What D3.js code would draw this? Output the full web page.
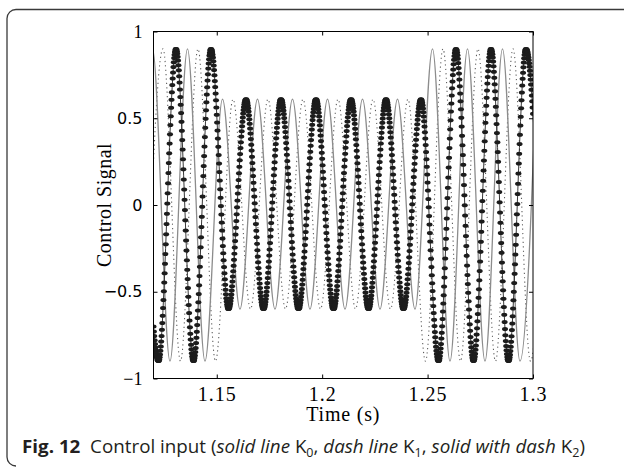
<!DOCTYPE html>
<html>
<head>
<meta charset="utf-8">
<script src="https://cdn.jsdelivr.net/npm/d3@7/dist/d3.min.js"></script>
<style>
  body { margin: 0; background: #fff; }
</style>
</head>
<body>
<div id="chart"></div>
<script>
// peaks and troughs: time (s) and control signal value
// K0 - solid line
var k0Time = [1.11122, 1.11952, 1.12782, 1.13612, 1.14442, 1.15272, 1.16102, 1.16932,
              1.17762, 1.18592, 1.19422, 1.20253, 1.21083, 1.21913, 1.22743, 1.23573,
              1.24403, 1.25233, 1.26063, 1.26893, 1.27723, 1.28553, 1.29383, 1.30213];
var k0Value = [-0.9, 0.9, -0.9, 0.9, -0.9, 0.61, -0.6, 0.61,
               -0.6, 0.61, -0.6, 0.61, -0.6, 0.61, -0.6, 0.61,
               -0.6, 0.9, -0.9, 0.9, -0.9, 0.9, -0.9, 0.9];
// K1 - dash line
var k1Time = [1.11620, 1.12450, 1.13280, 1.14110, 1.14940, 1.15770, 1.16600, 1.17430,
              1.18260, 1.19091, 1.19921, 1.20751, 1.21581, 1.22411, 1.23241, 1.24071,
              1.24901, 1.25731, 1.26561, 1.27391, 1.28221, 1.29051, 1.29881, 1.30711];
var k1Value = [-0.9, 0.9, -0.9, 0.9, -0.9, 0.61, -0.6, 0.61,
               -0.6, 0.61, -0.6, 0.61, -0.6, 0.61, -0.6, 0.61,
               -0.9, 0.9, -0.9, 0.9, -0.9, 0.9, -0.9, 0.9];
// K2 - solid with dash (markers)
var k2Time = [1.11407, 1.12237, 1.13067, 1.13897, 1.14727, 1.15557, 1.16387, 1.17217,
              1.18047, 1.18877, 1.19708, 1.20538, 1.21368, 1.22198, 1.23028, 1.23858,
              1.24688, 1.25518, 1.26348, 1.27178, 1.28008, 1.28838, 1.29668, 1.30498];
var k2Value = [0.9, -0.9, 0.9, -0.9, 0.9, -0.6, 0.61, -0.6,
               0.61, -0.6, 0.61, -0.6, 0.61, -0.6, 0.61, -0.6,
               0.61, -0.9, 0.9, -0.9, 0.9, -0.9, 0.9, -0.9];

var xTicks = [1.15, 1.2, 1.25, 1.3];
var xTickLabels = ["1.15", "1.2", "1.25", "1.3"];
var yTicks = [-1, -0.5, 0, 0.5, 1];
var yTickLabels = ["\u22121", "\u22120.5", "0", "0.5", "1"];

var w = 624, h = 468;
var markerStep = 1 / 5500;   // sample spacing of the K2 markers

var svg = d3.select("#chart").append("svg")
    .attr("width", w)
    .attr("height", h);

var x = d3.scaleLinear().domain([1.12, 1.3]).range([153.5, 533]);
var y = d3.scaleLinear().domain([-1, 1]).range([378.5, 31.5]);

// frame of the figure (top and left side only)
svg.append("path")
    .attr("d", "M624,9.5 H16 A9,9 0 0 0 7,18.5 V457 A9,9 0 0 0 16,466")
    .attr("fill", "none")
    .attr("stroke", "#3a3a3a")
    .attr("stroke-width", 1.3);

svg.append("clipPath").attr("id", "plotclip")
  .append("rect")
    .attr("x", x.range()[0]).attr("y", y.range()[1])
    .attr("width", x.range()[1] - x.range()[0])
    .attr("height", y.range()[0] - y.range()[1]);

var plot = svg.append("g").attr("clip-path", "url(#plotclip)");

function toRows(ts, vs) {
  return ts.map(function(t, i) { return {t: t, v: vs[i]}; });
}
var k0 = toRows(k0Time, k0Value);
var k1 = toRows(k1Time, k1Value);
var k2 = toRows(k2Time, k2Value);

var line = d3.line()
    .x(function(d) { return x(d.t); })
    .y(function(d) { return y(d.v); })
    .curve(d3.curveMonotoneX);

// K1 dash line
plot.append("path")
    .datum(k1)
    .attr("d", line)
    .attr("fill", "none")
    .attr("stroke", "#5e5e5e")
    .attr("stroke-width", 1.1)
    .attr("stroke-dasharray", "1.2 3.2");

// K0 solid line
plot.append("path")
    .datum(k0)
    .attr("d", line)
    .attr("fill", "none")
    .attr("stroke", "#8c8c8c")
    .attr("stroke-width", 1.3);

// K2 solid line with markers
var k2path = plot.append("path")
    .datum(k2)
    .attr("d", line)
    .attr("fill", "none")
    .attr("stroke", "#222")
    .attr("stroke-width", 0.9);

// markers sit on the drawn K2 line at even time steps
var node = k2path.node();
var total = node.getTotalLength();
var pts = [];
for (var s = 0; s <= total; s += 0.5) {
  var p = node.getPointAtLength(s);
  pts.push([p.x, p.y]);
}
var bis = d3.bisector(function(d) { return d[0]; }).left;
var marks = [];
for (var t = x.domain()[0]; t <= x.domain()[1] + 1e-9; t += markerStep) {
  var px = x(t);
  var j = Math.max(1, Math.min(pts.length - 1, bis(pts, px)));
  var a = pts[j - 1], b = pts[j];
  var f = b[0] === a[0] ? 0 : (px - a[0]) / (b[0] - a[0]);
  marks.push([px, a[1] + f * (b[1] - a[1])]);
}
plot.selectAll(".mk")
    .data(marks)
    .enter()
    .append("ellipse")
    .attr("class", "mk")
    .attr("cx", function(d) { return d[0]; })
    .attr("cy", function(d) { return d[1]; })
    .attr("rx", 3)
    .attr("ry", 2)
    .attr("fill", "#1c1c1c");

// axes box, ticks pointing inwards
svg.append("rect")
    .attr("x", x.range()[0]).attr("y", y.range()[1])
    .attr("width", x.range()[1] - x.range()[0])
    .attr("height", y.range()[0] - y.range()[1])
    .attr("fill", "none")
    .attr("stroke", "#000")
    .attr("stroke-width", 1);

var xb = svg.append("g")
    .attr("transform", "translate(0," + y.range()[0] + ")")
    .call(d3.axisBottom(x).tickValues(xTicks).tickSize(-4).tickSizeOuter(0).tickPadding(8)
      .tickFormat(function(d, i) { return xTickLabels[i]; }));
var xt = svg.append("g")
    .attr("transform", "translate(0," + y.range()[1] + ")")
    .call(d3.axisTop(x).tickValues(xTicks).tickSize(-4).tickSizeOuter(0).tickFormat(""));
var yl = svg.append("g")
    .attr("transform", "translate(" + x.range()[0] + ",0)")
    .call(d3.axisLeft(y).tickValues(yTicks).tickSize(-4).tickSizeOuter(0).tickPadding(11)
      .tickFormat(function(d, i) { return yTickLabels[i]; }));
var yr = svg.append("g")
    .attr("transform", "translate(" + x.range()[1] + ",0)")
    .call(d3.axisRight(y).tickValues(yTicks).tickSize(-4).tickSizeOuter(0).tickFormat(""));

[xb, xt, yl, yr].forEach(function(g) {
  g.select(".domain").remove();
  g.selectAll(".tick line").attr("stroke", "#000");
});
xb.selectAll("text")
    .attr("font-family", "'Liberation Serif', serif")
    .attr("font-size", 20)
    .attr("letter-spacing", 1)
    .attr("fill", "#000");
yl.selectAll("text")
    .attr("font-family", function(d) {
      return Math.abs(d) === 1 ? "'Liberation Serif', serif" : "'DejaVu Sans', sans-serif";
    })
    .attr("font-size", function(d) { return Math.abs(d) === 1 ? 18 : 16; })
    .attr("fill", "#000");

svg.append("text")
    .attr("x", (x.range()[0] + x.range()[1]) / 2)
    .attr("y", 421)
    .attr("text-anchor", "middle")
    .attr("font-family", "'Liberation Serif', serif")
    .attr("font-size", 20)
    .attr("letter-spacing", 0.8)
    .text("Time (s)");

svg.append("text")
    .attr("transform", "translate(111,205) rotate(-90)")
    .attr("text-anchor", "middle")
    .attr("font-family", "'Liberation Serif', serif")
    .attr("font-size", 20)
    .attr("letter-spacing", 0.5)
    .text("Control Signal");

// caption
var cap = svg.append("text")
    .attr("x", 22)
    .attr("y", 453)
    .attr("font-family", "'Open Sans', sans-serif")
    .attr("font-size", 18)
    .attr("fill", "#231f20")
    .attr("textLength", 563)
    .attr("lengthAdjust", "spacingAndGlyphs");
var parts = [
  ["Fig. 12", "b"], ["\u00a0 Control input (", ""], ["solid line", "i"], [" K", ""], ["0", "s"],
  [", ", ""], ["dash line", "i"], [" K", ""], ["1", "s"], [", ", ""],
  ["solid with dash", "i"], [" K", ""], ["2", "s"], [")", ""]
];
parts.forEach(function(p) {
  var ts = cap.append("tspan").text(p[0]);
  if (p[1] === "b") ts.attr("font-weight", "bold");
  if (p[1] === "i") ts.attr("font-style", "italic");
  if (p[1] === "s") ts.attr("font-size", 12).attr("dy", 4);
  if (p[1] === "" && (p[0] === ", " || p[0] === ")")) ts.attr("dy", -4);
});
</script>
</body>
</html>
